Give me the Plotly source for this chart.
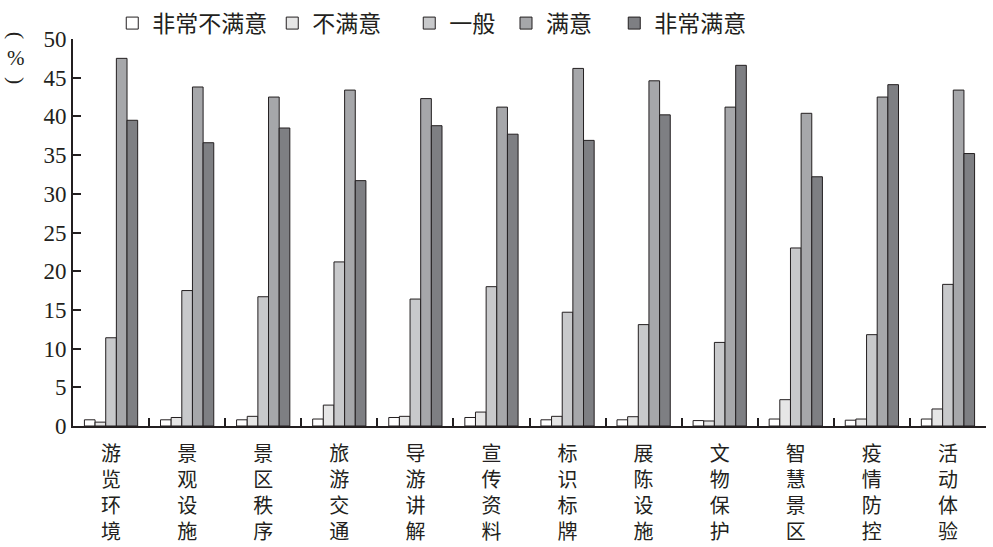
import plotly.graph_objects as go

categories = ['游览环境', '景观设施', '景区秩序', '旅游交通', '导游讲解', '宣传资料',
              '标识标牌', '展陈设施', '文物保护', '智慧景区', '疫情防控', '活动体验']

very_unsatisfied = [0.8, 0.8, 0.8, 0.9, 1.1, 1.1, 0.8, 0.8, 0.7, 0.9, 0.75, 0.9]
unsatisfied = [0.5, 1.1, 1.25, 2.7, 1.25, 1.8, 1.25, 1.2, 0.65, 3.4, 0.9, 2.2]
neutral = [11.4, 17.5, 16.7, 21.2, 16.4, 18.0, 14.7, 13.1, 10.8, 23.0, 11.8, 18.3]
satisfied = [47.5, 43.8, 42.5, 43.4, 42.3, 41.2, 46.2, 44.6, 41.2, 40.4, 42.5, 43.4]
very_satisfied = [39.5, 36.6, 38.5, 31.7, 38.8, 37.7, 36.9, 40.2, 46.6, 32.2, 44.1, 35.2]

series_names = ['非常不满意', '不满意', '一般', '满意', '非常满意']
series_colors = ['#ffffff', '#e6e6e6', '#c8c9cb', '#a6a7aa', '#7e7f83']
# extra room after some legend entries
legend_pad = ['', '\u2003', '\u2005', '\u2002\u2005', '']

# vertical labels: one character per line
tick_text = ['<br>'.join(list(c)) for c in categories]

fig = go.Figure()
for name, pad, vals, col in zip(series_names, legend_pad,
                                [very_unsatisfied, unsatisfied, neutral, satisfied, very_satisfied],
                                series_colors):
    fig.add_trace(go.Bar(x=tick_text, y=vals, name=name + pad,
                         marker=dict(color=col, line=dict(color='#231f20', width=1))))

font_family = 'Liberation Serif, Noto Sans CJK SC, serif'

fig.update_layout(
    width=993, height=547,
    margin=dict(l=73, r=7, t=39, b=121, autoexpand=False),
    plot_bgcolor='white', paper_bgcolor='white',
    barmode='group', bargap=0.3, bargroupgap=0,
    font=dict(family=font_family, size=22, color='#231f20'),
    legend=dict(orientation='h', x=0.043, y=1.041, xanchor='left', yanchor='middle',
                font=dict(size=23), traceorder='normal', itemwidth=30),
    showlegend=True,
)

fig.update_yaxes(range=[0, 50], dtick=5, ticks='inside', ticklen=8, tickwidth=2,
                 showline=True, linewidth=2, linecolor='#231f20', tickcolor='#231f20',
                 showgrid=False, zeroline=False, tickfont=dict(size=23), automargin=False)
fig.update_xaxes(type='category', ticks='inside', tickson='boundaries', ticklen=8,
                 tickwidth=2, tickcolor='#231f20', showline=True, linewidth=2,
                 linecolor='#231f20', showgrid=False, tickfont=dict(size=20),
                 ticklabelstandoff=9, automargin=False)

# y title written vertically: parentheses turned sideways, % upright
fig.add_annotation(text='(', xref='paper', yref='paper', x=-0.062, y=1.01,
                   xanchor='center', yanchor='middle', showarrow=False, textangle=90,
                   font=dict(size=22, family=font_family))
fig.add_annotation(text='%', xref='paper', yref='paper', x=-0.062, y=0.951,
                   xanchor='center', yanchor='middle', showarrow=False,
                   font=dict(size=21, family=font_family))
fig.add_annotation(text=')', xref='paper', yref='paper', x=-0.062, y=0.893,
                   xanchor='center', yanchor='middle', showarrow=False, textangle=90,
                   font=dict(size=22, family=font_family))

# drop the default page margin so the figure sits at the window corner
fig.write_html("out.html", config={'displayModeBar': False},
               post_script="document.body.style.margin='0';")
